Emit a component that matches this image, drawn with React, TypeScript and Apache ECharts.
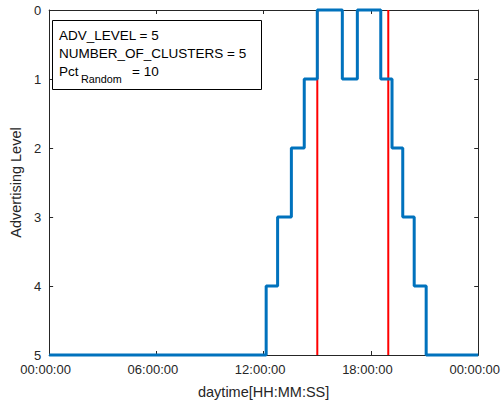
import React, { useEffect, useRef } from "react";
import * as echarts from "echarts";

// Step changes: [hour of day, advertising level]
const stepHours = [0, 12.14, 12.78, 13.55, 14.27, 15.0, 16.4, 17.24, 18.55, 19.18, 19.78, 20.42, 21.09, 24];
const stepLevels = [5, 4, 3, 2, 1, 0, 1, 0, 1, 2, 3, 4, 5, 5];
const redLineHours = [15.0, 18.97];
const xTickHours = [0, 6, 12, 18, 24];
const yTicks = [0, 1, 2, 3, 4, 5];
const annotationLines = ["ADV_LEVEL = 5", "NUMBER_OF_CLUSTERS = 5"];

const FONT = "Liberation Sans, Arial, Helvetica, sans-serif";
const TXT = "#262626";

function fmtHour(h: number): string {
  const hh = Math.round(h) % 24;
  return (hh < 10 ? "0" : "") + hh + ":00:00";
}

export default function App() {
  const ref = useRef<HTMLDivElement>(null);
  useEffect(() => {
    if (!ref.current) return;
    const chart = echarts.init(ref.current, undefined, { renderer: "svg" });
    const stepData = stepHours.map((h, i) => [h, stepLevels[i]]);
    const redSeries = redLineHours.map((h, i) => ({
      type: "line",
      name: "red" + i,
      data: [
        [h, yTicks[0]],
        [h, yTicks[yTicks.length - 1]],
      ],
      symbol: "none",
      lineStyle: { color: "#ff0000", width: 2 },
      z: 3,
    }));
    const axisCommon = {
      type: "value",
      min: 0,
      axisLine: { show: true, onZero: false, lineStyle: { color: TXT, width: 1 } },
      axisTick: { show: true, inside: true, length: 4, lineStyle: { color: TXT } },
      splitLine: { show: false },
    };
    chart.setOption({
      animation: false,
      grid: { left: 42, right: 22, top: 10, bottom: 48, containLabel: false },
      xAxis: [
        {
          ...axisCommon,
          max: xTickHours[xTickHours.length - 1],
          interval: 6,
          position: "bottom",
          name: "daytime[HH:MM:SS]",
          nameLocation: "middle",
          nameGap: 29,
          nameTextStyle: { color: TXT, fontFamily: FONT, fontSize: 14.5 },
          axisLabel: {
            color: TXT,
            fontFamily: FONT,
            fontSize: 13,
            margin: 8,
            padding: [0, 7, 0, 0],
            formatter: (v: number) => fmtHour(v),
          },
        },
        {
          ...axisCommon,
          max: xTickHours[xTickHours.length - 1],
          interval: 6,
          position: "top",
          axisLabel: { show: false },
        },
      ],
      yAxis: [
        {
          ...axisCommon,
          max: 5,
          interval: 1,
          inverse: true,
          position: "left",
          name: "Advertising Level",
          nameLocation: "middle",
          nameGap: 21,
          nameTextStyle: { color: TXT, fontFamily: FONT, fontSize: 14.5 },
          axisLabel: { color: TXT, fontFamily: FONT, fontSize: 13, margin: 8 },
        },
        {
          ...axisCommon,
          max: 5,
          interval: 1,
          inverse: true,
          position: "right",
          axisLabel: { show: false },
        },
      ],
      series: [
        {
          type: "line",
          name: "level",
          data: stepData,
          step: "end",
          symbol: "none",
          lineStyle: { color: "#0072BD", width: 3 },
          z: 4,
          clip: false,
        },
        ...redSeries,
      ],
      graphic: [
        {
          type: "rect",
          shape: { x: 52.5, y: 20.5, width: 209, height: 69 },
          style: { fill: "#ffffff", stroke: "#000000", lineWidth: 1 },
          z: 10,
        },
        ...annotationLines.map((t, i) => ({
          type: "text",
          x: 59,
          y: 35.7 + i * 17.8,
          style: { text: t, fill: "#000000", font: `13.5px ${FONT}`, textVerticalAlign: "middle" },
          z: 11,
        })),
        {
          type: "text",
          x: 59,
          y: 71.7,
          style: { text: "Pct", fill: "#000000", font: `13.5px ${FONT}`, textVerticalAlign: "middle" },
          z: 11,
        },
        {
          type: "text",
          x: 81,
          y: 78.5,
          style: { text: "Random", fill: "#000000", font: `10.8px ${FONT}`, textVerticalAlign: "middle" },
          z: 11,
        },
        {
          type: "text",
          x: 132,
          y: 71.7,
          style: { text: "= 10", fill: "#000000", font: `13.5px ${FONT}`, textVerticalAlign: "middle" },
          z: 11,
        },
      ],
    });
    return () => chart.dispose();
  }, []);
  return <div ref={ref} style={{ width: 503, height: 404, position: "absolute", left: 0, top: 0 }} />;
}
